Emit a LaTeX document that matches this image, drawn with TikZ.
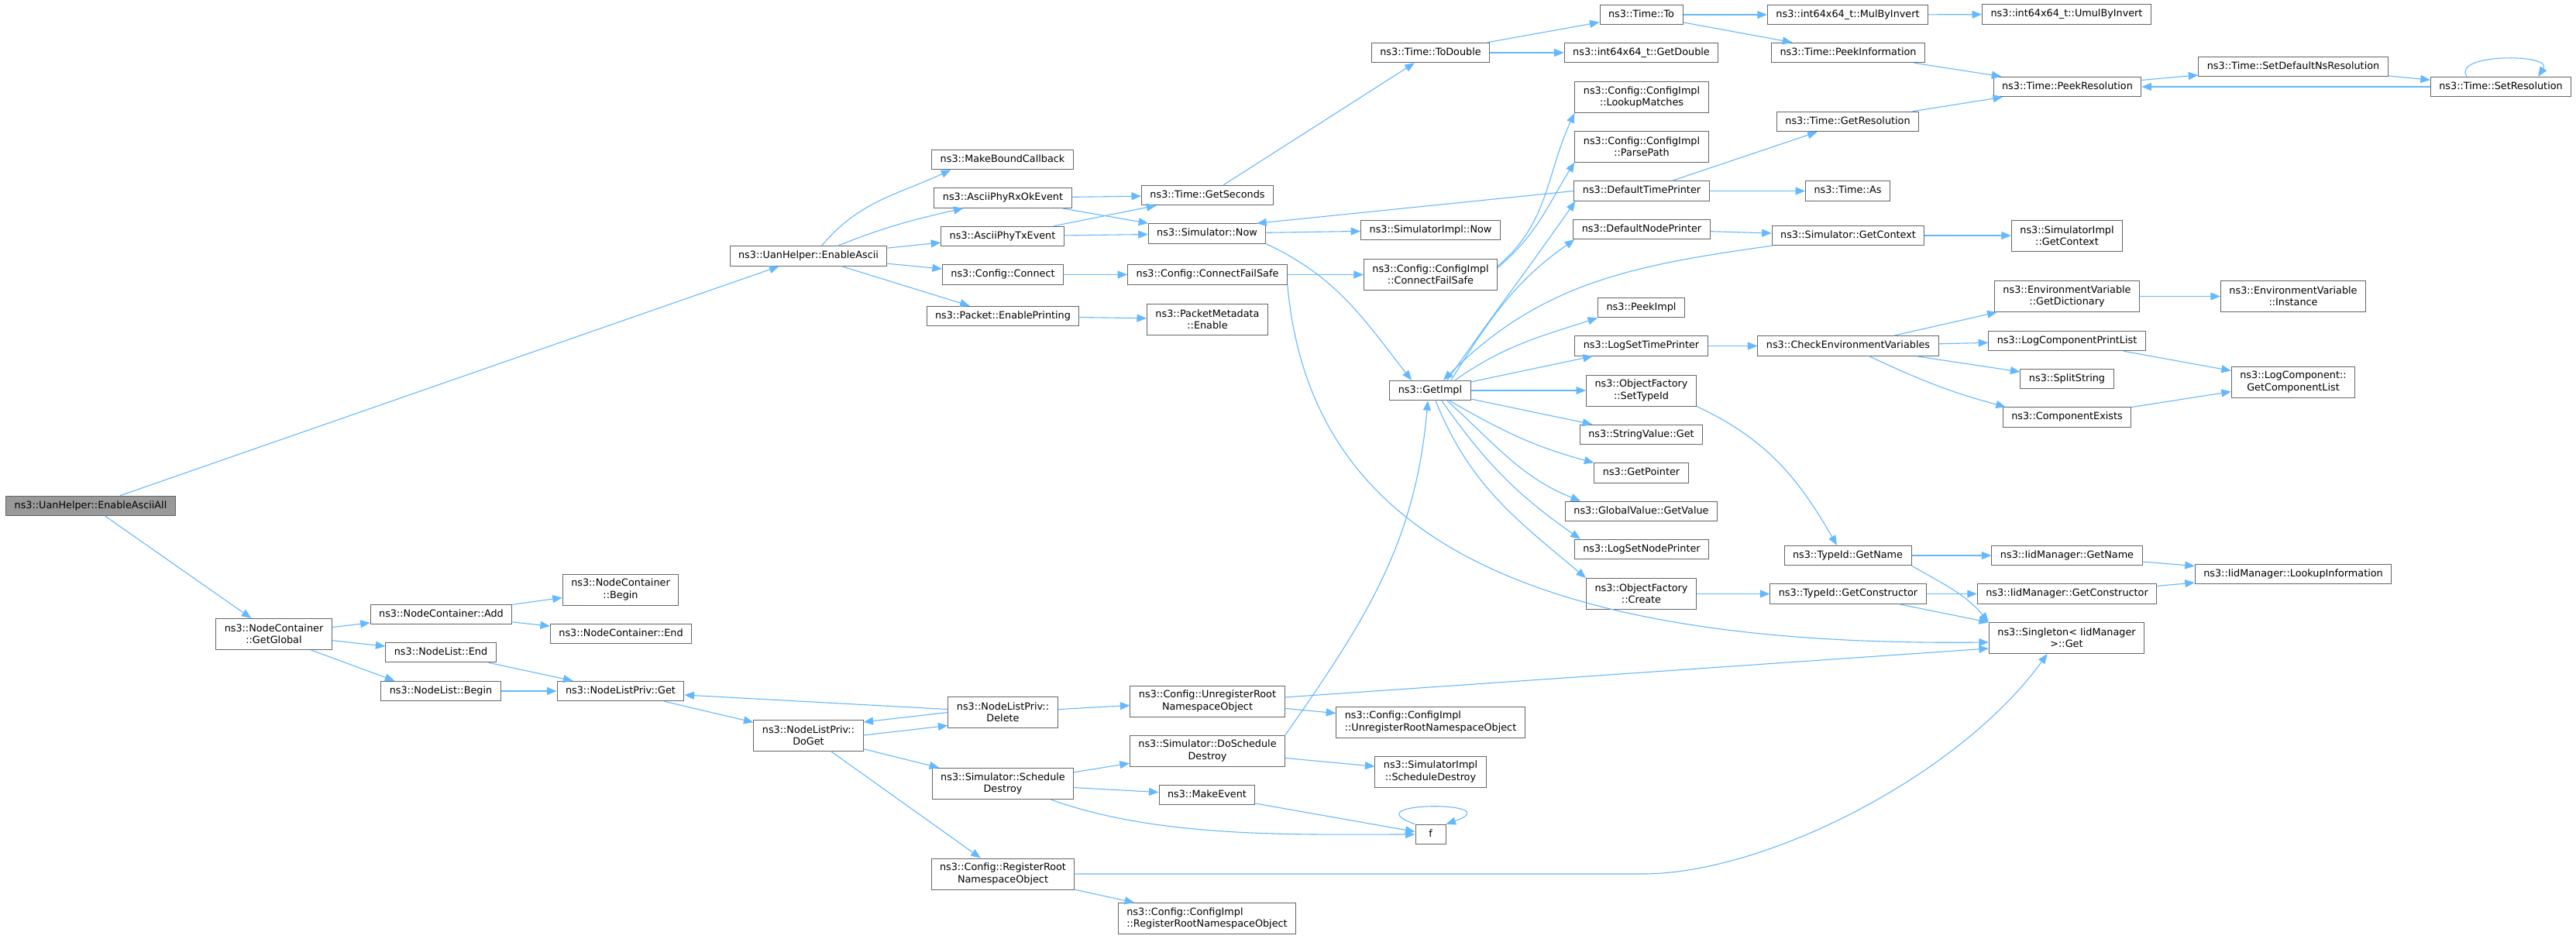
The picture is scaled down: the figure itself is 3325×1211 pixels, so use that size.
\documentclass[tikz,border=0pt]{standalone}
\usepackage{fontspec}
\setmainfont{DejaVu Sans}
\usepackage{xcolor}
\usetikzlibrary{arrows.meta}

\definecolor{callblue}{HTML}{63B8FF}
\definecolor{boxline}{HTML}{666666}
\definecolor{rootfill}{HTML}{999999}
\newcommand{\nodefont}{\fontsize{12.8}{15.3}\selectfont}

\begin{document}
\begin{tikzpicture}[
    x=1pt, y=1pt,
    >={Triangle[length=12.5pt,width=10pt]},
    fn/.style={rectangle, draw=boxline, line width=1pt, fill=white, font=\nodefont, inner xsep=11pt, inner ysep=2pt, minimum height=25.5pt, text height=9.5pt, text depth=3pt},
    fn2/.style={rectangle, draw=boxline, line width=1pt, fill=white, font=\nodefont, inner xsep=11pt, inner ysep=2pt, minimum height=40pt, align=center},
    root/.style={fill=rootfill},
    call/.style={->, draw=callblue, line width=1.1pt}
]
\useasboundingbox (0,0) rectangle (3325,-1211);

% === Caller ===
\node[fn, root] (uanall) at (117,-653) {ns3::UanHelper::EnableAsciiAll};

% === Rank 1 ===
\node[fn] (uanascii) at (1043.5,-330.5) {ns3::UanHelper::EnableAscii};
\node[fn2] (ncglobal) at (353.5,-818.5) {ns3::NodeContainer\\::GetGlobal};

% === Node container / node list ===
\node[fn] (ncadd) at (569.5,-793) {ns3::NodeContainer::Add};
\node[fn] (nlend) at (569,-842) {ns3::NodeList::End};
\node[fn] (nlbegin) at (569,-892) {ns3::NodeList::Begin};
\node[fn2] (ncbegin) at (801,-761) {ns3::NodeContainer\\::Begin};
\node[fn] (ncend) at (801.5,-818) {ns3::NodeContainer::End};
\node[fn] (nlpget) at (801,-892) {ns3::NodeListPriv::Get};
\node[fn2] (nlpdoget) at (1043.5,-949) {ns3::NodeListPriv::\\DoGet};

% === Rank 5 ===
\node[fn] (mkbound) at (1294,-206) {ns3::MakeBoundCallback};
\node[fn] (rxok) at (1294.5,-255.5) {ns3::AsciiPhyRxOkEvent};
\node[fn] (txev) at (1294,-305) {ns3::AsciiPhyTxEvent};
\node[fn] (cfgconnect) at (1294.5,-354.5) {ns3::Config::Connect};
\node[fn] (pktprint) at (1294.5,-408) {ns3::Packet::EnablePrinting};
\node[fn2] (nlpdelete) at (1294.5,-919.5) {ns3::NodeListPriv::\\Delete};
\node[fn2] (simsched) at (1294.5,-1011.5) {ns3::Simulator::Schedule\\Destroy};
\node[fn2] (cfgreg) at (1294.5,-1128) {ns3::Config::RegisterRoot\\NamespaceObject};

% === Rank 6 ===
\node[fn] (getsec) at (1558.5,-252) {ns3::Time::GetSeconds};
\node[fn] (simnow) at (1558,-301.5) {ns3::Simulator::Now};
\node[fn] (cfgfailsafe) at (1558.5,-354.5) {ns3::Config::ConnectFailSafe};
\node[fn2] (pmenable) at (1558.5,-412) {ns3::PacketMetadata\\::Enable};
\node[fn2] (cfgunreg) at (1558.5,-905) {ns3::Config::UnregisterRoot\\NamespaceObject};
\node[fn2] (simdosched) at (1558.5,-969) {ns3::Simulator::DoSchedule\\Destroy};
\node[fn] (mkevent) at (1558,-1026) {ns3::MakeEvent};
\node[fn2, align=left] (cireg) at (1558,-1185.5) {ns3::Config::ConfigImpl\\::RegisterRootNamespaceObject};

% === Rank 7 ===
\node[fn] (todouble) at (1846.5,-68) {ns3::Time::ToDouble};
\node[fn] (sinow) at (1846.5,-297) {ns3::SimulatorImpl::Now};
\node[fn2] (cifailsafe) at (1846.5,-354.5) {ns3::Config::ConfigImpl\\::ConnectFailSafe};
\node[fn] (getimpl) at (1846,-504) {ns3::GetImpl};
\node[fn2, align=left] (ciunreg) at (1846.5,-932) {ns3::Config::ConfigImpl\\::UnregisterRootNamespaceObject};
\node[fn2] (sisched) at (1846.5,-996) {ns3::SimulatorImpl\\::ScheduleDestroy};
\node[fn, minimum width=39pt] (f) at (1846.5,-1077) {f};

% === Rank 8 ===
\node[fn] (timeto) at (2118.5,-19) {ns3::Time::To};
\node[fn] (getdouble) at (2118.5,-68) {ns3::int64x64\_t::GetDouble};
\node[fn2] (lookup) at (2119,-125.5) {ns3::Config::ConfigImpl\\::LookupMatches};
\node[fn2] (parsepath) at (2119,-189) {ns3::Config::ConfigImpl\\::ParsePath};
\node[fn] (deftime) at (2119,-246.5) {ns3::DefaultTimePrinter};
\node[fn] (defnode) at (2119,-296) {ns3::DefaultNodePrinter};
\node[fn] (peekimpl) at (2118.5,-397) {ns3::PeekImpl};
\node[fn] (logtime) at (2118.5,-446.5) {ns3::LogSetTimePrinter};
\node[fn2] (settypeid) at (2118.5,-504) {ns3::ObjectFactory\\::SetTypeId};
\node[fn] (strget) at (2118.5,-561) {ns3::StringValue::Get};
\node[fn] (getptr) at (2118.5,-610.5) {ns3::GetPointer};
\node[fn] (gvget) at (2118.5,-660) {ns3::GlobalValue::GetValue};
\node[fn] (lognode) at (2119,-709) {ns3::LogSetNodePrinter};
\node[fn2] (ofcreate) at (2118.5,-766.5) {ns3::ObjectFactory\\::Create};

% === Rank 9 ===
\node[fn] (mulinv) at (2385,-19) {ns3::int64x64\_t::MulByInvert};
\node[fn] (peekinfo) at (2385.5,-68) {ns3::Time::PeekInformation};
\node[fn] (getres) at (2385,-157) {ns3::Time::GetResolution};
\node[fn] (timeas) at (2385,-246.5) {ns3::Time::As};
\node[fn] (simctx) at (2385.5,-304) {ns3::Simulator::GetContext};
\node[fn] (checkenv) at (2385.5,-446.5) {ns3::CheckEnvironmentVariables};
\node[fn] (tidname) at (2385,-717) {ns3::TypeId::GetName};
\node[fn] (tidctor) at (2385.5,-766.5) {ns3::TypeId::GetConstructor};

% === Rank 10 ===
\node[fn] (umulinv) at (2667.5,-18.5) {ns3::int64x64\_t::UmulByInvert};
\node[fn] (peekres) at (2668.5,-112) {ns3::Time::PeekResolution};
\node[fn2] (sictx) at (2668,-304) {ns3::SimulatorImpl\\::GetContext};
\node[fn2] (envdict) at (2668,-382.5) {ns3::EnvironmentVariable\\::GetDictionary};
\node[fn] (lcprint) at (2668,-440) {ns3::LogComponentPrintList};
\node[fn] (splitstr) at (2668,-489) {ns3::SplitString};
\node[fn] (compexists) at (2668,-538.5) {ns3::ComponentExists};
\node[fn] (iidname) at (2668,-717) {ns3::IidManager::GetName};
\node[fn] (iidctor) at (2668,-766.5) {ns3::IidManager::GetConstructor};
\node[fn2] (singleton) at (2667.5,-823.5) {ns3::Singleton< IidManager\\>::Get};

% === Rank 11, 12 ===
\node[fn] (setdefres) at (2960,-86) {ns3::Time::SetDefaultNsResolution};
\node[fn2] (envinst) at (2960,-382.5) {ns3::EnvironmentVariable\\::Instance};
\node[fn2] (lcgetlist) at (2960,-493) {ns3::LogComponent::\\GetComponentList};
\node[fn] (iidlookup) at (2960,-741) {ns3::IidManager::LookupInformation};
\node[fn] (setres) at (3228,-112) {ns3::Time::SetResolution};

% --- calls from the caller
\draw[call] (uanall) -- (uanascii);
\draw[call] (uanall) -- (ncglobal);

% --- EnableAscii
\draw[call] ([xshift=17pt]uanascii.north) to[out=50,in=205] ([xshift=25pt]mkbound.south west);
\draw[call] ([xshift=38pt]uanascii.north) to[out=22,in=193] ([xshift=38pt]rxok.south west);
\draw[call] (uanascii) -- (txev);
\draw[call] (uanascii) -- (cfgconnect);
\draw[call] (uanascii) -- (pktprint);

\draw[call] (rxok) -- (getsec);
\draw[call] (rxok) -- (simnow);
\draw[call] (txev) -- (getsec);
\draw[call] (txev) -- (simnow);
\draw[call] (cfgconnect) -- (cfgfailsafe);
\draw[call] (pktprint) -- (pmenable);

\draw[call] (getsec) -- (todouble);
\draw[call] (simnow) -- (sinow);
\draw[call] (simnow.south east) to[out=-25,in=128] ([xshift=-24pt]getimpl.north);
\draw[call] (cfgfailsafe) -- (cifailsafe);
\draw[call] (cfgfailsafe.south east) .. controls (1690,-680) and (1950,-835) .. ([yshift=-5.5pt]singleton.west);
\draw[call] ([yshift=11pt]cifailsafe.east) to[out=40,in=245] (lookup.south west);
\draw[call] ([yshift=9pt]cifailsafe.east) to[out=40,in=238] (parsepath.south west);

% --- time
\draw[call] (todouble) -- (timeto);
\draw[call] (todouble) -- (getdouble);
\draw[call] (timeto) -- (mulinv);
\draw[call] (timeto) -- (peekinfo);
\draw[call] (mulinv) -- (umulinv);
\draw[call] (peekinfo) -- (peekres);
\draw[call] (getres) -- (peekres);
\draw[call] (peekres) -- (setdefres);
\draw[call] (setdefres) -- (setres);
\draw[call] (setres) -- (peekres);
\draw[call] ([xshift=-44pt]setres.north) .. controls +(-20,30) and +(20,30) .. ([xshift=48pt]setres.north);

% --- printers and context
\draw[call] (deftime.west) -- ([xshift=-12pt]simnow.north east);
\draw[call] (deftime) -- (getres);
\draw[call] (deftime) -- (timeas);
\draw[call] (defnode) -- (simctx);
\draw[call] (simctx) -- (sictx);
\draw[call] (simctx.south west) to[out=188,in=45] ([xshift=17pt]getimpl.north);

% --- GetImpl
\draw[call] ([xshift=22pt]getimpl.north) to[out=55,in=235] ([xshift=2pt]deftime.south west);
\draw[call] ([xshift=27pt]getimpl.north) to[out=58,in=215] ([xshift=2pt]defnode.south west);
\draw[call] ([xshift=32pt]getimpl.north) to[out=35,in=198] (peekimpl.south west);
\draw[call] (getimpl) -- (logtime);
\draw[call] (getimpl) -- (settypeid);
\draw[call] (getimpl) -- (strget);
\draw[call] ([xshift=25pt]getimpl.south) to[out=-30,in=165] (getptr.north west);
\draw[call] ([xshift=22pt]getimpl.south) to[out=-42,in=158] ([xshift=20pt]gvget.north west);
\draw[call] ([xshift=15pt]getimpl.south) to[out=-55,in=145] ([xshift=8pt]lognode.north west);
\draw[call] ([xshift=7pt]getimpl.south) to[out=-68,in=140] (ofcreate.north west);

% --- logging and type ids
\draw[call] (logtime) -- (checkenv);
\draw[call] (checkenv) -- (envdict);
\draw[call] (checkenv) -- (lcprint);
\draw[call] (checkenv) -- (splitstr);
\draw[call] ([xshift=27pt]checkenv.south) to[out=-25,in=165] ([xshift=4pt]compexists.north west);
\draw[call] (envdict) -- (envinst);
\draw[call] (lcprint) -- (lcgetlist);
\draw[call] (compexists) -- (lcgetlist);
\draw[call] (settypeid.south east) to[out=-25,in=120] ([xshift=-14pt]tidname.north);
\draw[call] (ofcreate) -- (tidctor);
\draw[call] (tidname) -- (iidname);
\draw[call] (tidname.south east) to[out=-30,in=130] (singleton.north west);
\draw[call] (tidctor) -- (iidctor);
\draw[call] (tidctor) -- (singleton);
\draw[call] (iidname) -- (iidlookup);
\draw[call] (iidctor) -- (iidlookup);

% --- GetGlobal
\draw[call] (ncglobal) -- (ncadd);
\draw[call] (ncglobal) -- (nlend);
\draw[call] ([xshift=48pt]ncglobal.south) -- ([xshift=18pt]nlbegin.north west);
\draw[call] (ncadd) -- (ncbegin);
\draw[call] (ncadd) -- (ncend);
\draw[call] (nlend) -- (nlpget);
\draw[call] (nlbegin) -- (nlpget);
\draw[call] (nlpget) -- (nlpdoget);
\draw[call] (nlpdoget.east) -- ([yshift=-17pt]nlpdelete.west);
\draw[call] (nlpdelete.west) -- ([yshift=17pt]nlpdoget.east);
\draw[call] ([yshift=4pt]nlpdelete.west) -- ([yshift=-5pt]nlpget.east);
\draw[call] (nlpdelete) -- (cfgunreg);
\draw[call] (nlpdoget) -- (simsched);
\draw[call] (nlpdoget) -- (cfgreg);

% --- destroy and namespace objects
\draw[call] (cfgunreg) -- (ciunreg);
\draw[call] ([yshift=5pt]cfgunreg.east) -- ([yshift=-13.5pt]singleton.west);
\draw[call] (simsched) -- (simdosched);
\draw[call] (simsched) -- (mkevent);
\draw[call] ([xshift=62pt]simsched.south) to[out=-20,in=180,looseness=0.8] (f.west);
\draw[call] (mkevent) -- (f);
\draw[call] (simdosched) -- (sisched);
\draw[call] (simdosched.north east) to[out=55,in=-95] ([xshift=-3pt]getimpl.south);
\draw[call] (f.north west) .. controls +(-85,30) and +(85,30) .. (f.north east);
\draw[call] (cfgreg) -- (cireg);
\draw[call] (cfgreg.east) -- (2120,-1128) .. controls (2280,-1128) and (2530,-1000) .. ([xshift=-25pt]singleton.south);
\end{tikzpicture}
\end{document}
